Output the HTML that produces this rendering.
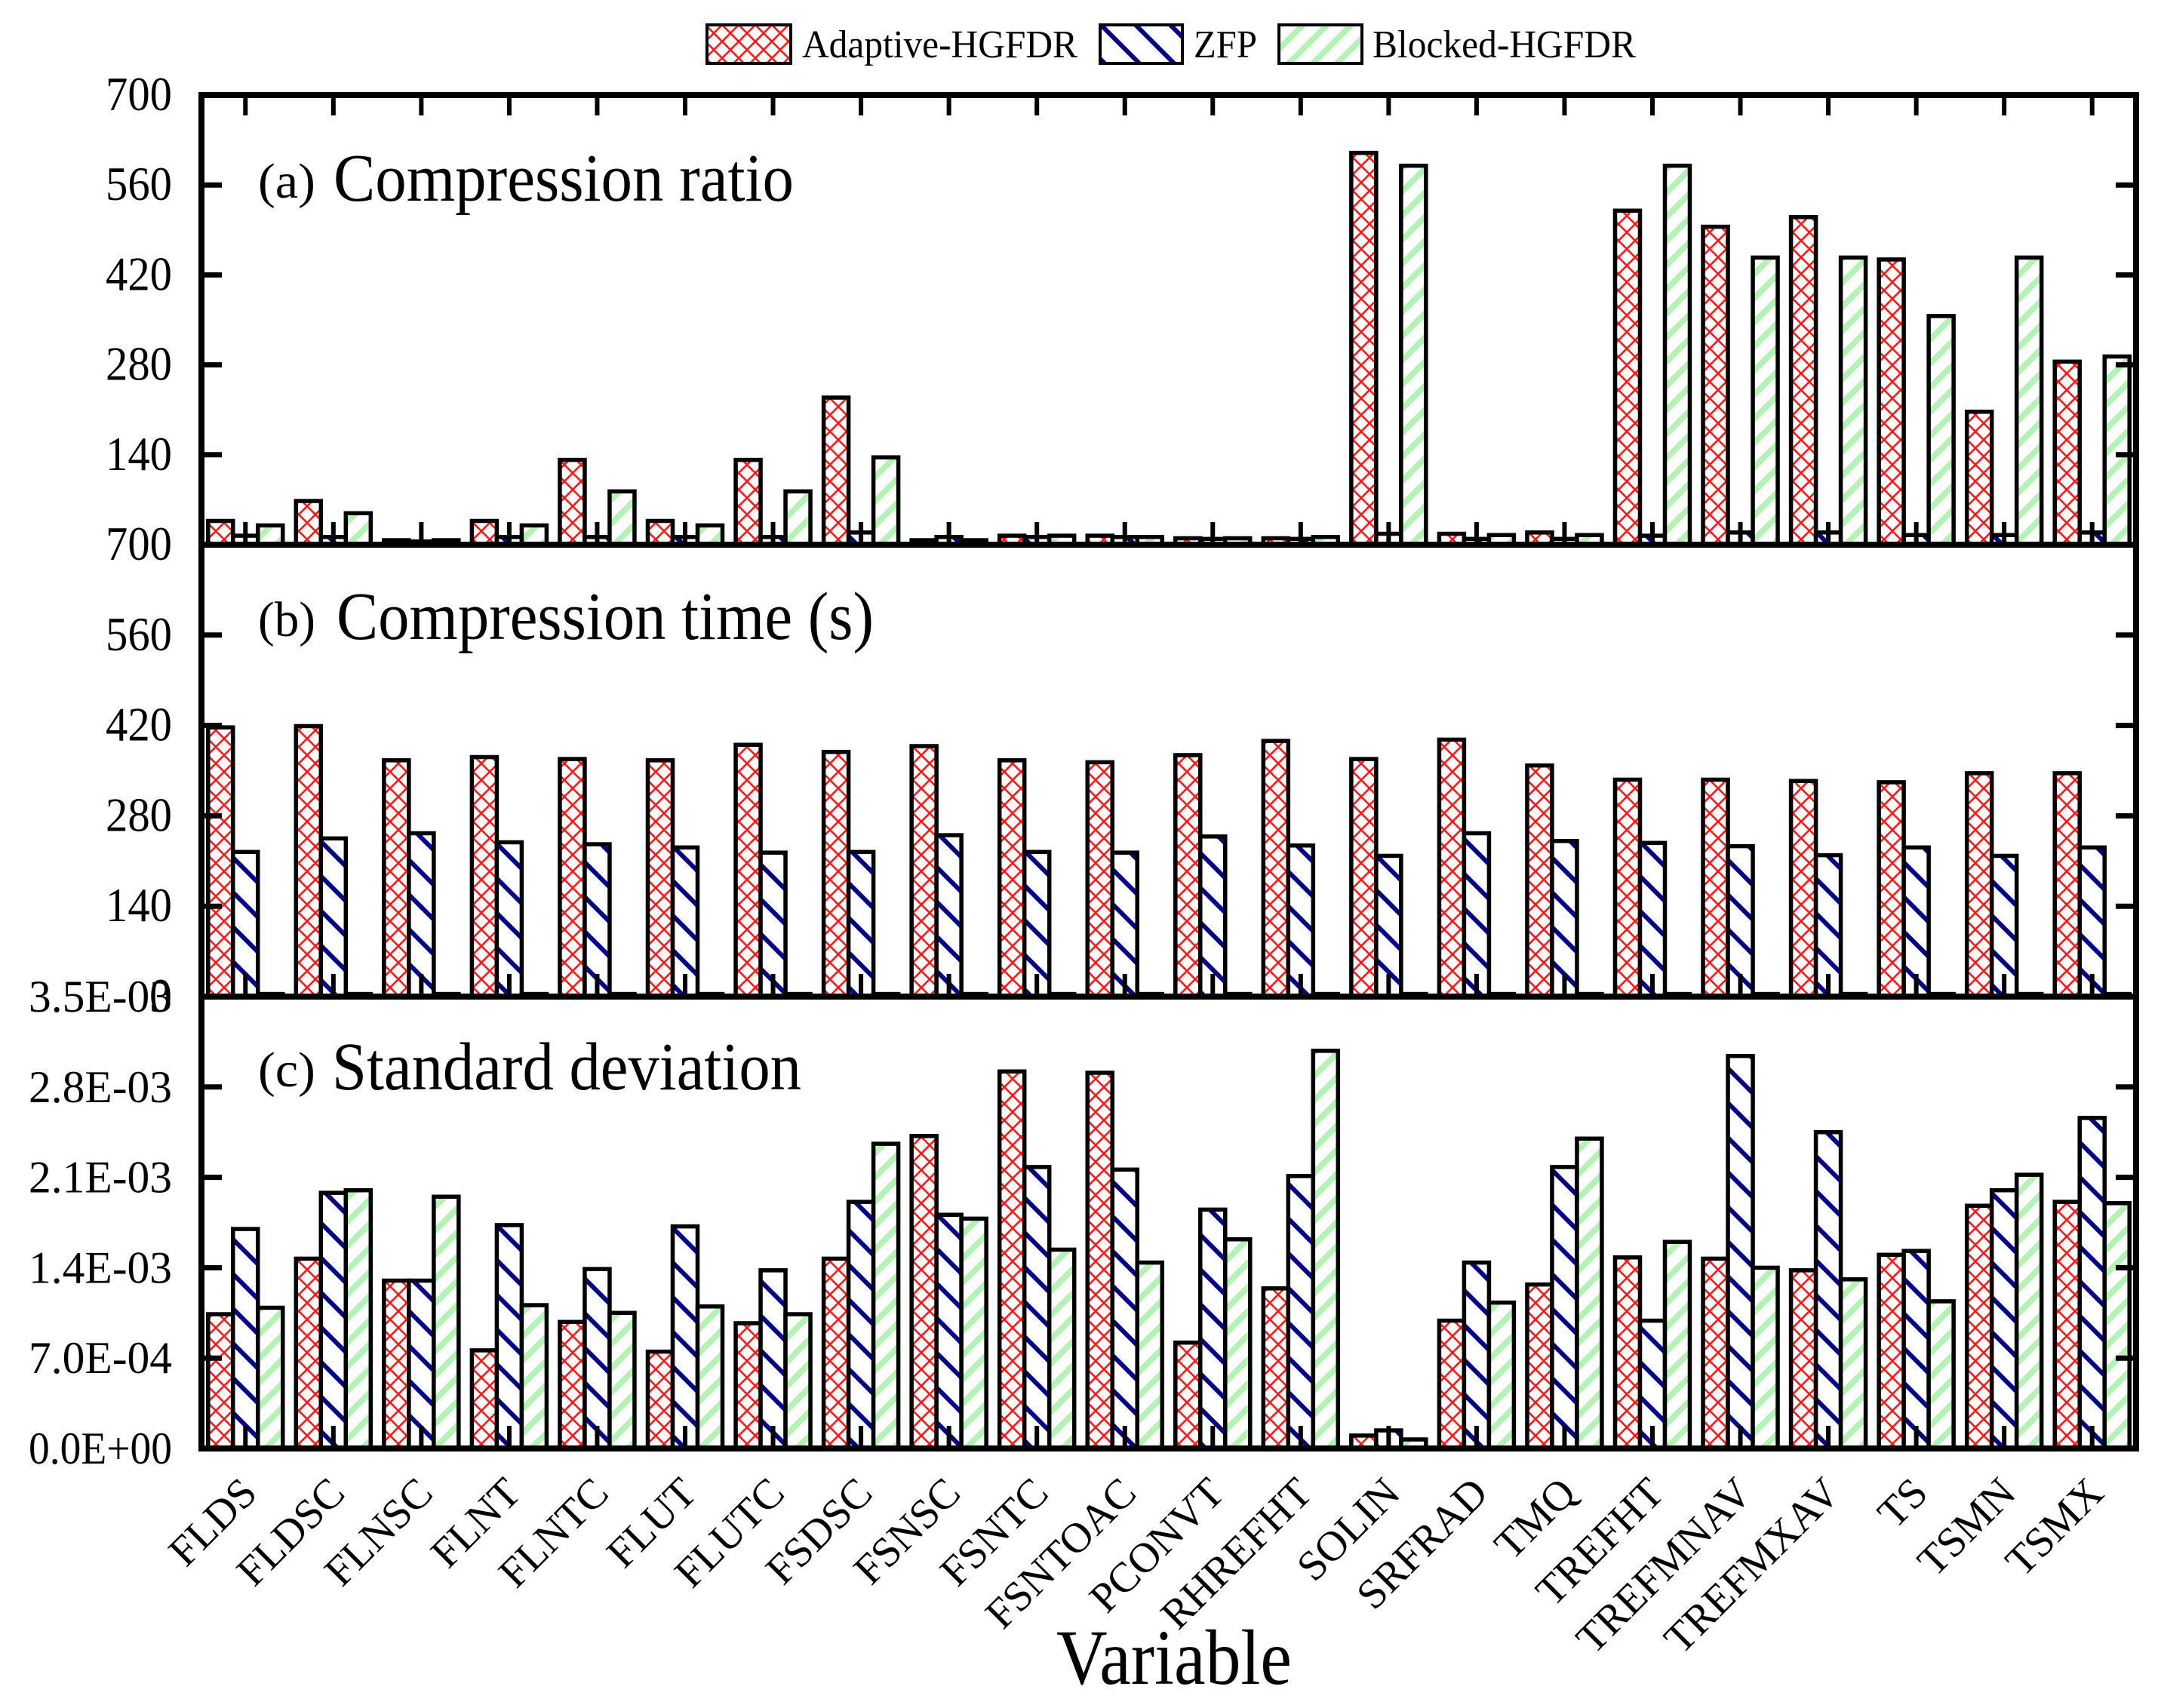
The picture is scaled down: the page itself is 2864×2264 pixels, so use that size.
<!DOCTYPE html>
<html><head><meta charset="utf-8"><style>
html,body{margin:0;padding:0;background:#fff;}
svg{display:block;}
text{font-family:"Liberation Serif",serif;fill:#000;}
</style></head><body>
<svg id="chart" width="2864" height="2264" viewBox="0 0 2864 2264" xmlns="http://www.w3.org/2000/svg">
<defs>
<pattern id="pRed" patternUnits="userSpaceOnUse" width="22" height="22">
<rect width="22" height="22" fill="#fff"/>
<path d="M0,0L22,22M22,0L0,22" stroke="#ff1a1a" stroke-width="2.6"/>
</pattern>
<pattern id="pBlue" patternUnits="userSpaceOnUse" width="46" height="46">
<rect width="46" height="46" fill="#fff"/>
<path d="M-6,-6L52,52M-6,40L6,52M40,-6L52,6" stroke="#00008b" stroke-width="6"/>
</pattern>
<pattern id="pGreen" patternUnits="userSpaceOnUse" width="32" height="32">
<rect width="32" height="32" fill="#fff"/>
<path d="M-4,36L36,-4M-4,4L4,-4M28,36L36,28" stroke="#b5f2b5" stroke-width="8"/>
</pattern>
</defs>
<g id="legend">
<rect x="937" y="33" width="111" height="51" fill="url(#pRed)" stroke="#000" stroke-width="4"/>
<text x="1063" y="76" font-size="52" textLength="365" lengthAdjust="spacingAndGlyphs">Adaptive-HGFDR</text>
<rect x="1458" y="33" width="109" height="51" fill="url(#pBlue)" stroke="#000" stroke-width="4"/>
<text x="1582" y="76" font-size="52" textLength="84" lengthAdjust="spacingAndGlyphs">ZFP</text>
<rect x="1695" y="33" width="110" height="51" fill="url(#pGreen)" stroke="#000" stroke-width="4"/>
<text x="1819" y="76" font-size="52" textLength="349" lengthAdjust="spacingAndGlyphs">Blocked-HGFDR</text>
</g>
<g id="plot"></g>
</svg>
<script>
const categories = ["FLDS","FLDSC","FLNSC","FLNT","FLNTC","FLUT","FLUTC","FSDSC","FSNSC","FSNTC","FSNTOAC","PCONVT","RHREFHT","SOLIN","SRFRAD","TMQ","TREFHT","TREFMNAV","TREFMXAV","TS","TSMN","TSMX"];
const ratioAdaptive = [37,68,7,37,132,37,132,229,7,14,14,10,10,610,17,19,520,495,510,444,207,285];
const ratioZFP = [14,12,5,12,12,12,12,19,12,12,12,9,9,17,9,9,14,19,19,15,15,19];
const ratioBlocked = [30,49,7,30,83,30,83,136,7,14,12,10,12,590,15,15,590,447,447,356,447,293];
const timeAdaptive = [417,419,366,371,368,366,390,379,388,366,363,374,396,368,398,358,336,336,334,332,346,346];
const timeZFP = [224,245,253,239,236,231,223,224,250,224,223,248,234,218,253,241,238,233,219,231,218,231];
const timeBlocked = [4,4,4,4,4,4,4,4,4,4,4,4,4,4,4,4,4,4,4,4,4,4];
const sdAdaptive = [1.04e-3,1.47e-3,1.30e-3,0.76e-3,0.98e-3,0.75e-3,0.97e-3,1.47e-3,2.42e-3,2.92e-3,2.91e-3,0.82e-3,1.24e-3,0.10e-3,0.99e-3,1.27e-3,1.48e-3,1.47e-3,1.38e-3,1.50e-3,1.88e-3,1.91e-3];
const sdZFP = [1.70e-3,1.98e-3,1.30e-3,1.73e-3,1.39e-3,1.72e-3,1.38e-3,1.91e-3,1.81e-3,2.18e-3,2.16e-3,1.85e-3,2.11e-3,0.14e-3,1.44e-3,2.18e-3,0.99e-3,3.04e-3,2.45e-3,1.53e-3,2.00e-3,2.56e-3];
const sdBlocked = [1.09e-3,2.00e-3,1.95e-3,1.11e-3,1.05e-3,1.10e-3,1.04e-3,2.36e-3,1.78e-3,1.54e-3,1.44e-3,1.62e-3,3.08e-3,0.07e-3,1.13e-3,2.40e-3,1.60e-3,1.40e-3,1.31e-3,1.14e-3,2.12e-3,1.90e-3];
const ticksAB = [0,140,280,420,560,700];
const ticksC = [0,0.7e-3,1.4e-3,2.1e-3,2.8e-3,3.5e-3];
const tickLabelsAB = ["0","140","280","420","560","700"];
const tickLabelsC = ["0.0E+00","7.0E-04","1.4E-03","2.1E-03","2.8E-03","3.5E-03"];

const NS="http://www.w3.org/2000/svg";
const plot=document.getElementById('plot');
const L=267,R=2831,bounds=[126,722,1321,1920];
const slot=(R-L)/categories.length, bw=33;
function mk(tag,attrs,parent){const e=document.createElementNS(NS,tag);for(const k in attrs)e.setAttribute(k,attrs[k]);(parent||plot).appendChild(e);return e;}
function xCenter(i){return L+slot*(i+0.5);}
const panels=[
 {key:'ratio',title:'Compression ratio',tag:'(a)',max:700,series:[ratioAdaptive,ratioZFP,ratioBlocked]},
 {key:'time',title:'Compression time (s)',tag:'(b)',max:700,series:[timeAdaptive,timeZFP,timeBlocked]},
 {key:'sd',title:'Standard deviation',tag:'(c)',max:3.5e-3,series:[sdAdaptive,sdZFP,sdBlocked]}
];
const fills=['url(#pRed)','url(#pBlue)','url(#pGreen)'];
const sNames=['adaptive','zfp','blocked'];
const titleOff=[140,125,123];
panels.forEach((p,pi)=>{
 const top=bounds[pi],bot=bounds[pi+1];
 const y=v=>bot-(v/p.max)*(bot-top);
 const g=mk('g',{});
 
 
 p.series.forEach((arr,si)=>{
  arr.forEach((v,i)=>{
   const x=xCenter(i)-1.5*bw+si*bw;
   const yy=y(v);
   const r=mk('rect',{x:x,y:yy,width:bw,height:bot-yy,fill:fills[si],stroke:'#000','stroke-width':5.5},g);
   
   
  });
 });
 const ticks=pi<2?ticksAB:ticksC, labs=pi<2?tickLabelsAB:tickLabelsC;
 ticks.forEach((t,k)=>{
  const yy=y(t);
  mk('line',{x1:L,x2:L+27,y1:yy,y2:yy,stroke:'#000','stroke-width':7},g);
  mk('line',{x1:R,x2:R-27,y1:yy,y2:yy,stroke:'#000','stroke-width':7},g);
  if(pi===0 && k===0) return;
  const tx=mk('text',{x:228,y:yy+20,'font-size':pi<2?64:60,'text-anchor':'end'},g);
  
  
  if(pi===2){tx.setAttribute('textLength',190);}
  else {tx.setAttribute('textLength',labs[k].length===1?30:88);}
  tx.setAttribute('lengthAdjust','spacingAndGlyphs');
  tx.textContent=labs[k];
 });
 categories.forEach((c,i)=>{
  const cx=xCenter(i);
  if(pi===0) mk('line',{x1:cx,x2:cx,y1:top,y2:top+27,stroke:'#000','stroke-width':6},g);
  mk('line',{x1:cx,x2:cx,y1:bot,y2:bot-30,stroke:'#000','stroke-width':6},g);
 });
 const t1=mk('text',{x:342,y:top+titleOff[pi]-4,'font-size':66},g);
 
 
 t1.setAttribute('textLength',76);
 t1.setAttribute('lengthAdjust','spacingAndGlyphs');
 t1.textContent=p.tag;
 const t2=mk('text',{x:pi===2?440:(pi===1?446:442),y:top+titleOff[pi],'font-size':90},g);
 
 
 t2.setAttribute('textLength',pi===0?610:(pi===1?712:622));
 t2.setAttribute('lengthAdjust','spacingAndGlyphs');
 t2.textContent=p.title;
});
const fr=mk('rect',{x:L,y:bounds[0],width:R-L,height:bounds[3]-bounds[0],fill:'none',stroke:'#000','stroke-width':8});


[bounds[1],bounds[2]].forEach(b=>mk('line',{x1:L,x2:R,y1:b,y2:b,stroke:'#000','stroke-width':8}));
categories.forEach((c,i)=>{
 const cx=xCenter(i)+18, yy=1982;
 const t=mk('text',{x:cx,y:yy,'font-size':56,'text-anchor':'end',transform:'rotate(-45 '+cx+' '+yy+')'});
 
 
 t.textContent=c;
});
const xt=mk('text',{x:1556,y:2232,'font-size':104,'text-anchor':'middle',textLength:312,lengthAdjust:'spacingAndGlyphs'});


xt.textContent='Variable';
</script>
</body></html>
